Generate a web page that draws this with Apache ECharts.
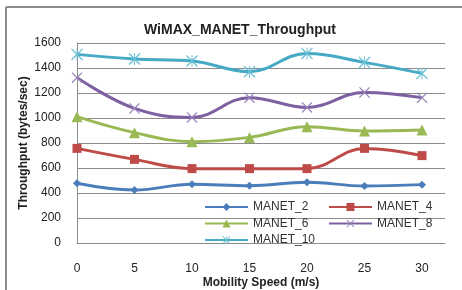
<!DOCTYPE html>
<html>
<head>
<meta charset="utf-8">
<script src="https://cdn.jsdelivr.net/npm/echarts@6/dist/echarts.min.js"></script>
<style>
html,body{margin:0;padding:0;background:#fff;}
#c{width:462px;height:290px;}
</style>
</head>
<body>
<div id="c"></div>
<script>
const speeds = [0, 5, 10, 15, 20, 25, 30];
const manet2 = [478, 424, 470, 459, 486, 456, 467];
const manet4 = [757, 669, 595, 595, 595, 757, 699];
const manet6 = [1011, 883, 811, 845, 931, 896, 904];
const manet8 = [1323, 1077, 1005, 1163, 1085, 1205, 1163];
const manet10 = [1509, 1472, 1456, 1371, 1517, 1445, 1357];
const seriesNames = ['MANET_2', 'MANET_4', 'MANET_6', 'MANET_8', 'MANET_10'];
const yTicks = [0, 200, 400, 600, 800, 1000, 1200, 1400, 1600];
const xTicks = [0, 5, 10, 15, 20, 25, 30];

const colors = ['#4A7EBB', '#BE4B48', '#98B954', '#7D60A0', '#46AAC5'];
const markerColors = ['#4A7EBB', '#BE4B48', '#98B954', '#9A86BC', '#6CC0D8'];
const xPath = 'path://M0,0.8L0.8,0L5,4.2L9.2,0L10,0.8L5.8,5L10,9.2L9.2,10L5,5.8L0.8,10L0,9.2L4.2,5Z';
const starPath = 'path://M0,0.8L0.8,0L5,4.2L9.2,0L10,0.8L5.8,5L10,9.2L9.2,10L5,5.8L0.8,10L0,9.2L4.2,5Z M4.6,0L5.4,0L5.4,10L4.6,10Z';
const symbols = ['diamond', 'rect', 'triangle', xPath, starPath];
const symbolSizes = [8, 9, 11, 11, 12];
const allData = [manet2, manet4, manet6, manet8, manet10];

const chart = echarts.init(document.getElementById('c'), null, {renderer: 'canvas'});
const font = '"Liberation Sans", Arial, sans-serif';

const series = seriesNames.map((name, i) => ({
  name: name,
  type: 'line',
  smooth: 0.4,
  data: speeds.map((s, j) => [s, allData[i][j]]),
  symbol: symbols[i],
  symbolSize: symbolSizes[i],
  showAllSymbol: true,
  lineStyle: {color: colors[i], width: 3},
  itemStyle: {color: markerColors[i]},
  z: 10 - i
}));

const legendCommon = {
  orient: 'vertical',
  itemWidth: 43, itemHeight: 10, itemGap: 2.5,
  lineStyle: {width: 2},
  textStyle: {fontFamily: font, fontSize: 12, color: '#333', lineHeight: 14}
};

chart.setOption({
  animation: false,
  textStyle: {fontFamily: font},
  graphic: [
    {type: 'line', shape: {x1: 6, y1: 7, x2: 462, y2: 7}, style: {stroke: '#8c8c8c', lineWidth: 2}},
    {type: 'line', shape: {x1: 6, y1: 7, x2: 6, y2: 290}, style: {stroke: '#8c8c8c', lineWidth: 2}}
  ],
  title: {
    text: 'WiMAX_MANET_Throughput',
    left: 139,
    top: 18,
    textStyle: {fontFamily: font, fontSize: 14, fontWeight: 'bold', color: '#222'}
  },
  legend: [
    Object.assign({data: ['MANET_2', 'MANET_6', 'MANET_10'], left: 199, top: 195}, legendCommon),
    Object.assign({data: ['MANET_4', 'MANET_8'], left: 323, top: 195}, legendCommon)
  ],
  grid: {left: 77, top: 43, width: 368, height: 200, containLabel: false, outerBoundsMode: 'none'},
  xAxis: {
    type: 'value',
    min: 0, max: 32, interval: 5,
    name: 'Mobility Speed (m/s)',
    nameLocation: 'middle',
    nameGap: 34,
    nameMoveOverlap: false,
    nameTextStyle: {fontFamily: font, fontSize: 12, fontWeight: 'bold', color: '#222'},
    axisLine: {show: true, lineStyle: {color: '#8c8c8c', width: 1}},
    axisTick: {show: false},
    splitLine: {show: false},
    axisLabel: {
      margin: 20, fontSize: 12, color: '#222', fontFamily: font,
      formatter: v => (xTicks.indexOf(v) >= 0 ? String(v) : '')
    }
  },
  yAxis: {
    type: 'value',
    min: 0, max: 1600, interval: 200,
    name: 'Throughput (bytes/sec)',
    nameLocation: 'middle',
    nameGap: 47,
    nameMoveOverlap: false,
    nameTextStyle: {fontFamily: font, fontSize: 12, fontWeight: 'bold', color: '#222'},
    axisLine: {show: true, lineStyle: {color: '#8c8c8c', width: 1}},
    axisTick: {show: false},
    splitLine: {show: true, lineStyle: {color: '#8c8c8c', width: 1}},
    axisLabel: {
      margin: 16, fontSize: 12, color: '#222', fontFamily: font,
      formatter: v => (yTicks.indexOf(v) >= 0 ? String(v) : '')
    }
  },
  series: series
});
</script>
</body>
</html>
